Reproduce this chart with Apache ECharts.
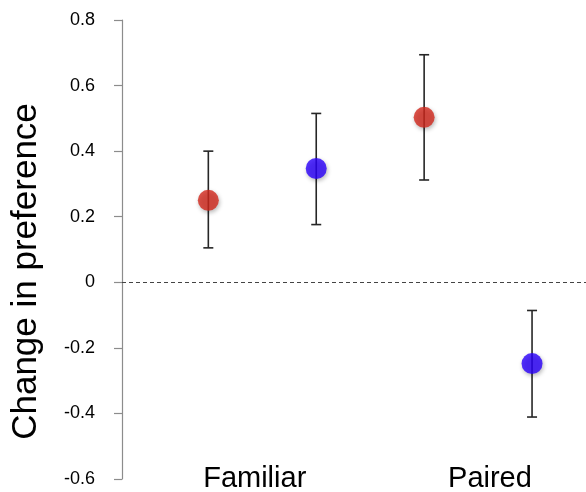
<!DOCTYPE html>
<html>
<head>
<meta charset="utf-8">
<script src="https://cdn.jsdelivr.net/npm/echarts@6/dist/echarts.min.js"></script>
<style>
  html, body { margin: 0; padding: 0; background: #fff; }
  #chart { width: 586px; height: 492px; }
</style>
</head>
<body>
<div id="chart"></div>
<script>
// 数据
var groupNames = ['Familiar', 'Paired'];
var groupLabelPos = [1.43, 3.61];
var positions = [1, 2, 3, 4];
var means = [0.25, 0.347, 0.503, -0.248];
var upper = [0.40, 0.515, 0.694, -0.086];
var lower = [0.105, 0.176, 0.312, -0.411];
var pointColors = ['#d2281d', '#2a00fb', '#d2281d', '#2a00fb'];

var myChart = echarts.init(document.getElementById('chart'));

var pointData = [];
var barData = [];
for (var i = 0; i < positions.length; i++) {
    pointData.push({
        value: [positions[i], means[i]],
        itemStyle: { color: pointColors[i] }
    });
    barData.push([positions[i], lower[i], upper[i]]);
}

var option = {
    animation: false,
    grid: { left: 122, right: 0, top: 20, bottom: 13, containLabel: false, outerBoundsMode: 'none' },
    xAxis: {
        type: 'value',
        min: 0.2,
        max: 4.5,
        axisLine: { show: false },
        axisTick: { show: false },
        splitLine: { show: false },
        axisLabel: {
            customValues: groupLabelPos,
            margin: 0,
            verticalAlign: 'middle',
            fontSize: 29,
            color: '#000',
            fontFamily: 'Liberation Sans',
            formatter: function (v) {
                var idx = groupLabelPos.indexOf(v);
                return idx >= 0 ? groupNames[idx] : '';
            }
        }
    },
    yAxis: {
        type: 'value',
        min: -0.6,
        max: 0.8,
        interval: 0.2,
        name: 'Change in preference',
        nameLocation: 'middle',
        nameGap: 78,
        nameTextStyle: { fontSize: 35, color: '#000', fontFamily: 'Liberation Sans', padding: [0, 44, 0, 0] },
        axisLine: { show: true, lineStyle: { color: '#8c8c8c', width: 1.2 } },
        axisTick: { show: true, length: 8, lineStyle: { color: '#8c8c8c', width: 1.2 } },
        splitLine: { show: false },
        axisLabel: {
            margin: 27,
            fontSize: 18,
            color: '#000',
            fontFamily: 'Liberation Sans',
            formatter: function (v) {
                return Math.abs(v) < 1e-9 ? '0' : v.toFixed(1);
            }
        }
    },
    series: [
        {
            type: 'custom',
            z: 1,
            data: barData,
            renderItem: function (params, api) {
                var x = api.value(0);
                var lo = api.coord([x, api.value(1)]);
                var hi = api.coord([x, api.value(2)]);
                var cap = 5;
                var style = { stroke: '#262626', lineWidth: 1.6 };
                return {
                    type: 'group',
                    children: [
                        { type: 'line', shape: { x1: lo[0], y1: lo[1], x2: hi[0], y2: hi[1] }, style: style },
                        { type: 'line', shape: { x1: lo[0] - cap, y1: lo[1], x2: lo[0] + cap, y2: lo[1] }, style: style },
                        { type: 'line', shape: { x1: hi[0] - cap, y1: hi[1], x2: hi[0] + cap, y2: hi[1] }, style: style }
                    ]
                };
            }
        },
        {
            type: 'scatter',
            z: 3,
            symbolSize: 21,
            data: pointData,
            itemStyle: {
                shadowBlur: 4,
                shadowOffsetX: 1,
                shadowOffsetY: 2,
                shadowColor: 'rgba(0,0,0,0.35)'
            },
            markLine: {
                silent: true,
                symbol: 'none',
                label: { show: false },
                lineStyle: { color: '#444', type: [4, 3], width: 1.2 },
                data: [{ yAxis: 0 }]
            }
        }
    ]
};

myChart.setOption(option);
</script>
</body>
</html>
